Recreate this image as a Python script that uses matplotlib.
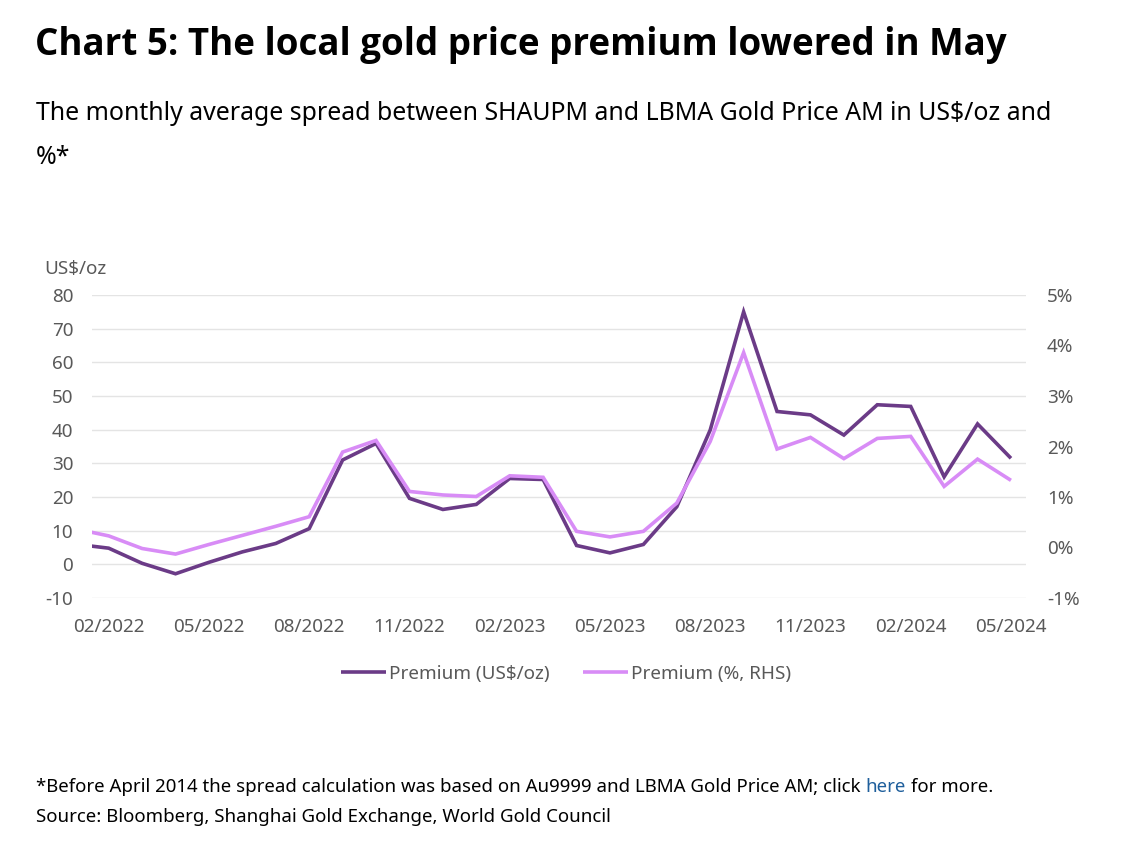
import matplotlib
matplotlib.use("Agg")
import matplotlib.pyplot as plt
from matplotlib import font_manager as fm
from matplotlib.ticker import FuncFormatter, FixedLocator

plt.rcParams['font.family'] = ['Noto Sans', 'DejaVu Sans']

# pick a family that really has a bold face
bold_family = 'DejaVu Sans'
for fam in ['Noto Sans', 'Open Sans', 'Lato', 'Roboto', 'Inter', 'Liberation Sans']:
    if any(f.name == fam and (f.weight in ('bold', 700) or str(f.weight) == '700')
           for f in fm.fontManager.ttflist):
        bold_family = fam
        break

# ---- data ----
months = ['01/2022', '02/2022', '03/2022', '04/2022', '05/2022', '06/2022',
          '07/2022', '08/2022', '09/2022', '10/2022', '11/2022', '12/2022',
          '01/2023', '02/2023', '03/2023', '04/2023', '05/2023', '06/2023',
          '07/2023', '08/2023', '09/2023', '10/2023', '11/2023', '12/2023',
          '01/2024', '02/2024', '03/2024', '04/2024', '05/2024']
premium_usd = [6.0, 4.8, 0.3, -2.8, 0.6, 3.7, 6.2, 10.6, 31.0, 35.9, 19.6, 16.3,
               17.8, 25.5, 25.2, 5.6, 3.4, 5.9, 17.1, 39.9, 75.0, 45.4, 44.4, 38.4,
               47.4, 46.9, 26.0, 41.7, 31.5]
premium_pct = [0.37, 0.23, -0.02, -0.13, 0.06, 0.24, 0.42, 0.61, 1.89, 2.12, 1.11, 1.04,
               1.01, 1.42, 1.39, 0.32, 0.21, 0.32, 0.88, 2.10, 3.86, 1.95, 2.18, 1.76,
               2.16, 2.20, 1.21, 1.75, 1.33]
tick_months = ['02/2022', '05/2022', '08/2022', '11/2022', '02/2023',
               '05/2023', '08/2023', '11/2023', '02/2024', '05/2024']
left_ticks = [-10, 0, 10, 20, 30, 40, 50, 60, 70, 80]
right_ticks = [-1, 0, 1, 2, 3, 4, 5]

series_names = ['Premium (US$/oz)', 'Premium (%, RHS)']
title = 'Chart 5: The local gold price premium lowered in May'
subtitle1 = 'The monthly average spread between SHAUPM and LBMA Gold Price AM in US$/oz and'
subtitle2 = '%*'

DARK = '#6b3b87'
LIGHT = '#d88cf6'
GREY = '#595959'
GRID = '#e4e4e4'
TS = 13.6  # tick / legend font size

W, H = 1125, 843
fig = plt.figure(figsize=(W / 100, H / 100), dpi=100)
fig.patch.set_facecolor('white')

def fx(px):
    return px / W

def fy(py):
    return 1 - py / H

ax = fig.add_axes([fx(92), fy(598), fx(1026) - fx(92), fy(295) - fy(598)])
ax2 = ax.twinx()

x = list(range(len(months)))
l1, = ax.plot(x, premium_usd, color=DARK, lw=2.6, solid_joinstyle='miter',
              solid_capstyle='butt', label=series_names[0])
l2, = ax2.plot(x, premium_pct, color=LIGHT, lw=2.6, solid_joinstyle='miter',
               solid_capstyle='butt', label=series_names[1])

ax.set_xlim(0.5, 28.45)
ax.set_ylim(-10, 80)
ax2.set_ylim(-1, 5)

ax.yaxis.set_major_locator(FixedLocator(left_ticks))
ax.yaxis.set_major_formatter(FuncFormatter(lambda v, p: f'{v:.0f}'))
ax2.yaxis.set_major_locator(FixedLocator(right_ticks))
ax2.yaxis.set_major_formatter(FuncFormatter(lambda v, p: f'{v:.0f}%'))

tick_pos = [months.index(m) for m in tick_months]
ax.set_xticks(tick_pos)
ax.set_xticklabels(tick_months)

for a in (ax, ax2):
    for s in a.spines.values():
        s.set_visible(False)
    a.set_facecolor('none')

ax.grid(axis='y', color=GRID, lw=1.0)
ax.set_axisbelow(True)
ax.tick_params(axis='both', length=0, labelsize=TS, labelcolor=GREY)
ax.tick_params(axis='y', pad=13.5)
ax.tick_params(axis='x', pad=14.5)
ax2.tick_params(axis='y', length=0, labelsize=TS, labelcolor=GREY, pad=15)

fig.text(fx(44), fy(274), 'US$/oz', fontsize=TS, color=GREY, va='baseline', ha='left')

leg = fig.legend(handles=[l1, l2], loc='center', bbox_to_anchor=(fx(566), fy(674)),
                 frameon=False, ncol=2, fontsize=TS, handlelength=2.4,
                 handletextpad=0.15, columnspacing=1.75)
for t in leg.get_texts():
    t.set_color(GREY)

# titles
fig.text(fx(35), fy(55), title, fontsize=26.45, fontweight='bold', family=[bold_family, 'DejaVu Sans'],
         color='black', va='baseline', ha='left')
fig.text(fx(36), fy(120.5), subtitle1, fontsize=17.9, color='black', va='baseline', ha='left')
fig.text(fx(36), fy(164), subtitle2, fontsize=17.9, color='black', va='baseline', ha='left')

# footnotes
fs = 13.45
t1 = fig.text(fx(36), fy(791.5),
              '*Before April 2014 the spread calculation was based on Au9999 and LBMA Gold Price AM; click',
              fontsize=fs, color='black', va='baseline', ha='left')
sp = fs * 0.26
a1 = ax.annotate('here', xy=(1, 0), xycoords=t1, xytext=(sp, 0), textcoords='offset points',
                 fontsize=fs, color='#1f5f9c', va='bottom', ha='left', annotation_clip=False)
a2 = ax.annotate('for more.', xy=(1, 0), xycoords=a1, xytext=(sp, 0), textcoords='offset points',
                 fontsize=fs, color='black', va='bottom', ha='left', annotation_clip=False)
fig.text(fx(36), fy(822.5), 'Source: Bloomberg, Shanghai Gold Exchange, World Gold Council',
         fontsize=fs, color='black', va='baseline', ha='left')

fig.savefig('out.png', dpi=100, facecolor='white')
